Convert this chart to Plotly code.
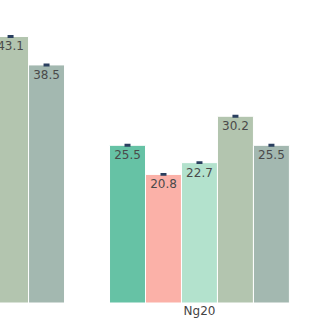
import plotly.graph_objects as go

categories = ["Ng10", "Ng20"]
series_names = ["A", "B", "C", "D", "E"]
series_values = [
    [50.0, 25.5],
    [45.0, 20.8],
    [47.0, 22.7],
    [43.1, 30.2],
    [38.5, 25.5],
]
series_errors = [
    [0.12, 0.12],
    [0.12, 0.12],
    [0.12, 0.12],
    [0.12, 0.12],
    [0.12, 0.12],
]
colors = ["#66c2a5", "#fbb1a8", "#b3e2cd", "#b3c5af", "#a3b8b0"]

fig = go.Figure()
for name, vals, errs, col in zip(series_names, series_values, series_errors, colors):
    fig.add_trace(go.Bar(
        name=name, x=categories, y=vals,
        marker=dict(color=col, line=dict(color="white", width=1)),
        error_y=dict(type="data", array=errs, color="#2a3f5f", thickness=1.5, width=3),
        text=[f"{v:.1f}" for v in vals], textposition="inside",
        insidetextanchor="end",
        textfont=dict(family="DejaVu Sans", size=12, color="#4a4a4a"),
    ))

fig.update_layout(
    width=320, height=320,
    margin=dict(l=0, r=0, t=0, b=0, pad=0),
    barmode="group", bargap=0.2, bargroupgap=0,
    showlegend=False,
    plot_bgcolor="white", paper_bgcolor="white",
    font=dict(family="DejaVu Sans", size=12, color="#444"),
    uniformtext=dict(mode="show", minsize=12),
)
fig.update_xaxes(range=[0.113, 1.536], showgrid=False, zeroline=False,
                 ticks="", ticklabelstandoff=0, automargin=False,
                 ticklabelposition="inside")
fig.update_yaxes(range=[-2.75, 49], showgrid=False, zeroline=False,
                 showticklabels=False, automargin=False)
fig.write_html("out.html")
